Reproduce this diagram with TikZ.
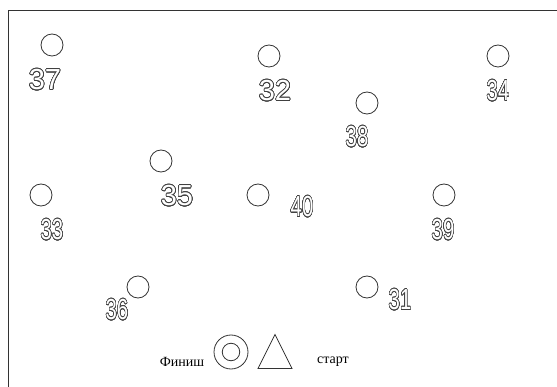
\documentclass[tikz,border=0pt]{standalone}
\usepackage{graphicx}
\usepackage{fontspec}
\setmainfont{Liberation Serif}
\newfontfamily\digitfont{Liberation Sans}
\usepackage[copies]{contour}
\contourlength{0.7pt}
\contournumber{24}
\usetikzlibrary{shapes.geometric}

\newcommand{\outl}[1]{\contour{black!75}{\textcolor{white}{#1}}}
\newcommand{\slim}[1]{\scalebox{0.7}[1]{\outl{#1}}}

\begin{document}
\begin{tikzpicture}[x=1pt, y=-1pt,
    post/.style={circle, draw=black!80, line width=0.8pt, minimum size=22pt, inner sep=0pt},
    num/.style={font=\fontsize{29}{29}\selectfont\digitfont, inner sep=0pt},
    legend/.style={font=\fontsize{14}{14}\selectfont, inner sep=0pt},
  ]
    \useasboundingbox (0,0) rectangle (557,387);
    \draw[black!80, line width=0.8pt] (8,10) rectangle (570,400);

    % Control points
    \node[post] (c37) at (52,45) {};
    \node[post] (c32) at (269,56) {};
    \node[post] (c34) at (498,56) {};
    \node[post] (c38) at (367,103) {};
    \node[post] (c35) at (161,161) {};
    \node[post] (c33) at (41,195) {};
    \node[post] (c40) at (258,195) {};
    \node[post] (c39) at (444,195) {};
    \node[post] (c36) at (138,287) {};
    \node[post] (c31) at (367,287) {};

    % Numbers
    \node[num] (n37) at (45,80) {\outl{37}};
    \node[num] (n32) at (275,91) {\outl{32}};
    \node[num] (n34) at (498,91) {\slim{34}};
    \node[num] (n38) at (357,137) {\slim{38}};
    \node[num] (n35) at (177,196) {\outl{35}};
    \node[num] (n33) at (52,230) {\slim{33}};
    \node[num] (n40) at (302,207) {\slim{40}};
    \node[num] (n39) at (443,230) {\slim{39}};
    \node[num] (n36) at (117,310) {\slim{36}};
    \node[num] (n31) at (400,300) {\slim{31}};

    % Finish and start
    \node[circle, draw=black!80, line width=0.8pt, minimum size=34pt] (fin) at (231,352) {};
    \node[circle, draw=black!80, line width=0.8pt, minimum size=17.5pt] (finin) at (fin) {};
    \node[isosceles triangle, isosceles triangle apex angle=53, shape border rotate=90,
          draw=black!80, line width=0.8pt, minimum height=34pt, inner sep=0pt] (start) at (275,358) {};
    \node[legend] (finlbl) at (182,362) {Финиш};
    \node[legend] (startlbl) at (333,362) {старт};
\end{tikzpicture}
\end{document}
